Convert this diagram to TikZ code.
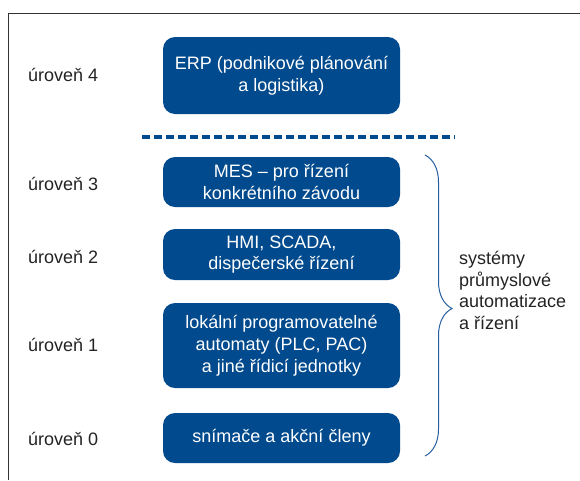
\documentclass[tikz,border=0pt]{standalone}
\usepackage{fontspec}
\setmainfont{Liberation Sans}
\usetikzlibrary{decorations.pathreplacing}
\definecolor{boxblue}{RGB}{0,74,141}
\definecolor{braceblue}{RGB}{40,95,160}
\definecolor{txt}{RGB}{35,35,35}
\begin{document}
\begin{tikzpicture}[x=1pt,y=-1pt,
  levelbox/.style={draw=none,fill=boxblue,rounded corners=12pt,text=white,align=center,
    font=\fontsize{18}{21.8}\selectfont,inner sep=0pt,minimum width=237pt},
  lvl/.style={anchor=west,text=txt,font=\fontsize{18}{21.8}\selectfont,inner sep=0pt}]
\useasboundingbox (0,0) rectangle (580,480);
\draw[line width=1.3pt,black!80] (8.5,480) -- (8.5,13.5) -- (580,13.5);
% boxes
\node[levelbox,minimum height=77pt] (erp) at (281.5,75.5) {ERP (podnikové plánování\\a logistika)};
\node[levelbox,minimum height=50pt] (mes) at (281.5,182) {MES – pro řízení\\konkrétního závodu};
\node[levelbox,minimum height=51pt] (hmi) at (281.5,254.5) {HMI, SCADA,\\dispečerské řízení};
\node[levelbox,minimum height=85pt] (plc) at (281.5,345.5) {lokální programovatelné\\automaty (PLC, PAC)\\a jiné řídicí jednotky};
\node[levelbox,minimum height=50pt] (sen) at (281.5,438) {snímače a akční členy};
% level labels
\node[lvl] (l4) at (28,75) {úroveň 4};
\node[lvl] (l3) at (28,184) {úroveň 3};
\node[lvl] (l2) at (28,257) {úroveň 2};
\node[lvl] (l1) at (28,345) {úroveň 1};
\node[lvl] (l0) at (28,439) {úroveň 0};
% dashed separator
\coordinate (dl) at (142,137);
\coordinate (dr) at (455,137);
\draw[boxblue,line width=3.2pt,dash pattern=on 7.5pt off 4.5pt] (dl) -- (dr);
% brace
\coordinate (bt) at (425,155);
\coordinate (bb) at (425,456);
\draw[braceblue,line width=1pt,decorate,decoration={brace,amplitude=27pt,aspect=0.51}] (bt) -- (bb);
\node[anchor=west,text=txt,align=left,font=\fontsize{18}{21.5}\selectfont,inner sep=0pt] (sys) at (459,290.5)
  {systémy\\průmyslové\\automatizace\\a řízení};
\end{tikzpicture}
\end{document}
